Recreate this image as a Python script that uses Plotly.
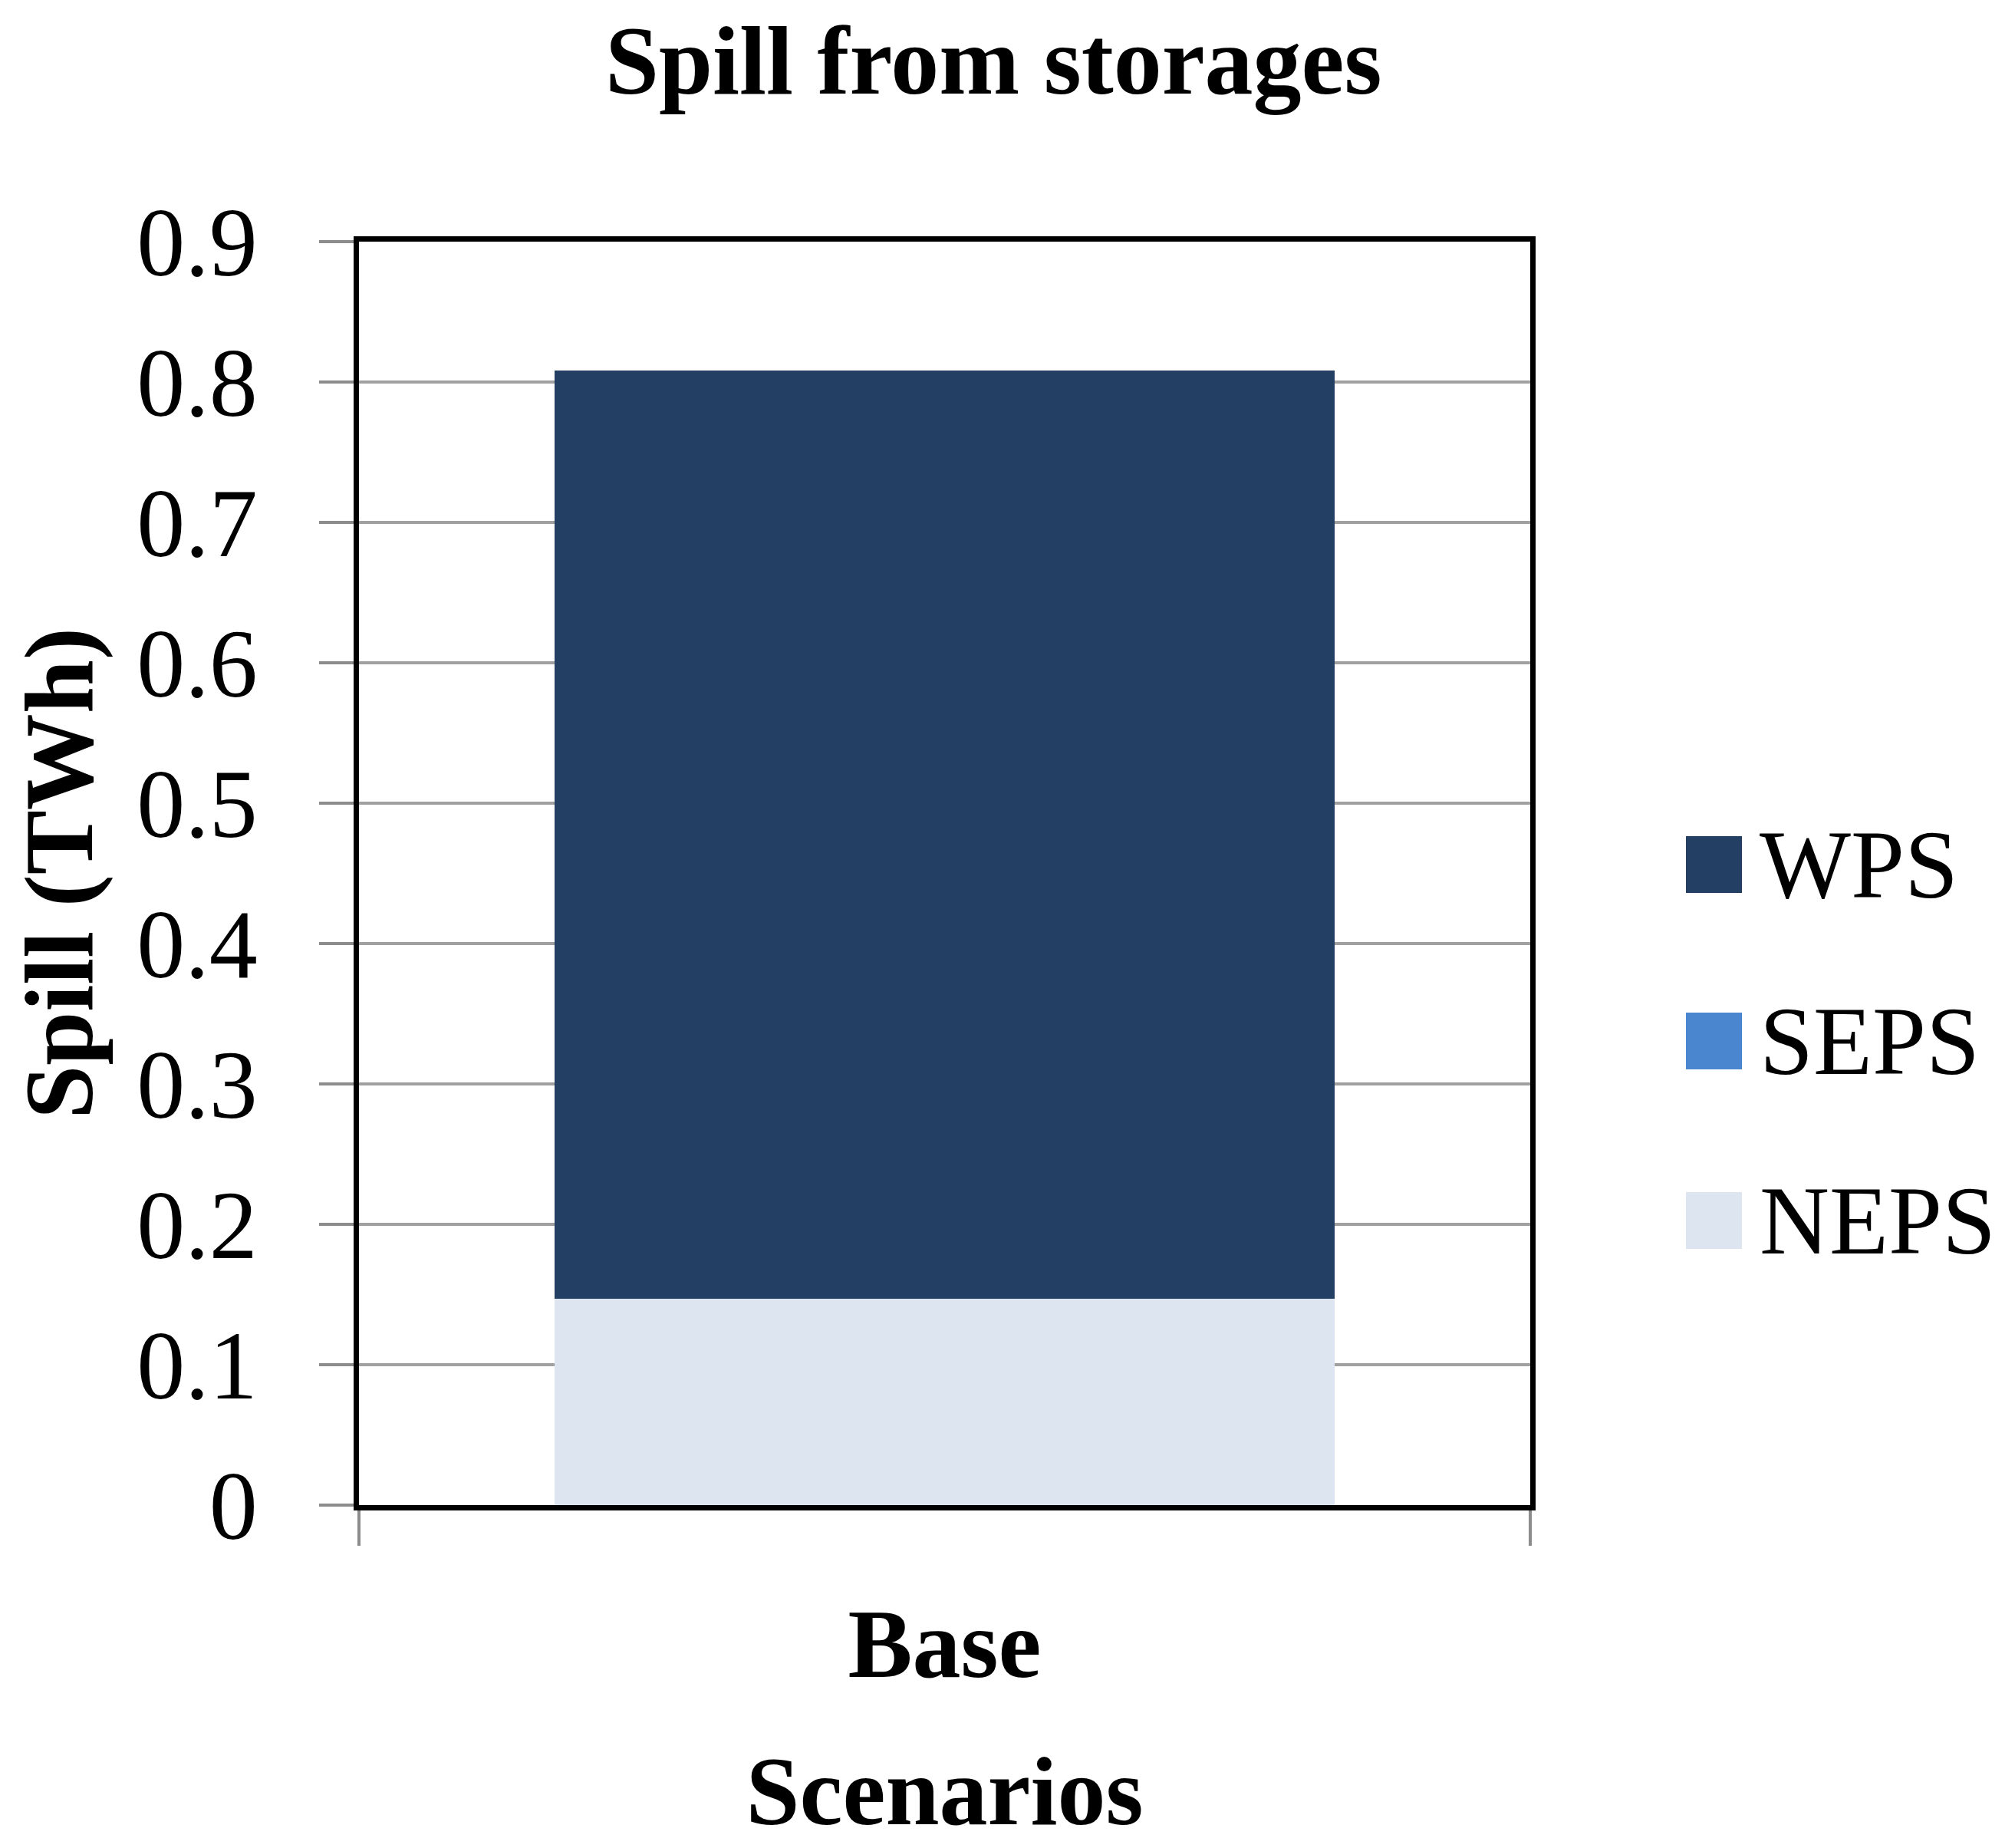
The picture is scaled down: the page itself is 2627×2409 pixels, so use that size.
import plotly.graph_objects as go

# ---- data ----
categories = ["Base"]
series_names = ["NEPS", "SEPS", "WPS"]          # stacking order bottom -> top
neps_values = [0.147]
seps_values = [0.0]
wps_values = [0.661]
series_colors = ["#DCE5F0", "#4A86D0", "#243F64"]
y_tick_values = [0, 0.1, 0.2, 0.3, 0.4, 0.5, 0.6, 0.7, 0.8, 0.9]
y_tick_labels = ["0", "0.1", "0.2", "0.3", "0.4", "0.5", "0.6", "0.7", "0.8", "0.9"]
legend_order = ["WPS", "SEPS", "NEPS"]

W, H = 2627, 2409
FONT = "Liberation Serif"
FS = 126

values = {"NEPS": neps_values, "SEPS": seps_values, "WPS": wps_values}
colors = dict(zip(series_names, series_colors))

fig = go.Figure()
for name in series_names:
    fig.add_trace(go.Bar(
        x=categories, y=values[name], name=name,
        marker=dict(color=colors[name], line=dict(width=0)),
        width=0.666, showlegend=False,
    ))

L, R, T, B = 460, 640, 307, 455
fig.update_layout(
    width=W, height=H,
    barmode="stack",
    paper_bgcolor="white", plot_bgcolor="white",
    margin=dict(l=L, r=R, t=T, b=B, autoexpand=False),
    font=dict(family=FONT, size=FS, color="black"),
    title=dict(text="<b>Spill from storages</b>", x=0.49, xref="container",
               y=1, yref="container", yanchor="top", xanchor="center",
               pad=dict(t=26, b=0, l=0, r=0),
               font=dict(family=FONT, size=126, color="black")),
    showlegend=False,
)
fig.update_xaxes(
    type="category", range=[-0.5, 0.5],
    tickson="boundaries", ticks="outside", ticklen=46, tickwidth=4, tickcolor="#8c8c8c",
    showline=True, linecolor="black", linewidth=7, mirror=True,
    showgrid=False,
    tickfont=dict(family=FONT, size=FS, color="black"),
    ticktext=["<b>Base</b>"], tickvals=categories,
    ticklabelstandoff=66,
    title=dict(text="<b>Scenarios</b>", standoff=80,
               font=dict(family=FONT, size=FS, color="black")),
)
fig.update_yaxes(
    range=[0, 0.9], tickvals=y_tick_values, ticktext=y_tick_labels,
    ticks="outside", ticklen=45, tickwidth=4, tickcolor="#8c8c8c",
    showline=True, linecolor="black", linewidth=7, mirror=True,
    showgrid=True, gridcolor="#a0a0a0", gridwidth=4,
    zeroline=False,
    tickfont=dict(family=FONT, size=FS, color="black"),
    ticklabelstandoff=55,
    title=dict(text="<b>Spill (TWh)</b>", standoff=50,
               font=dict(family=FONT, size=FS, color="black")),
)

# manual legend with large swatches
legend_y = [1119, 1349, 1583]
for name, yc in zip(legend_order, legend_y):
    fig.add_shape(type="rect", xref="paper", yref="paper",
                  x0=(2190 - L) / (W - L - R), x1=(2263 - L) / (W - L - R),
                  y0=(H - B - (yc + 37)) / (H - T - B), y1=(H - B - (yc - 37)) / (H - T - B),
                  fillcolor=colors[name], line=dict(width=0))
    fig.add_annotation(xref="paper", yref="paper",
                       x=(2284 - L) / (W - L - R), y=(H - B - yc) / (H - T - B),
                       text=name, showarrow=False, xanchor="left", yanchor="middle",
                       font=dict(family=FONT, size=FS, color="black"))

fig.write_html("out.html")
